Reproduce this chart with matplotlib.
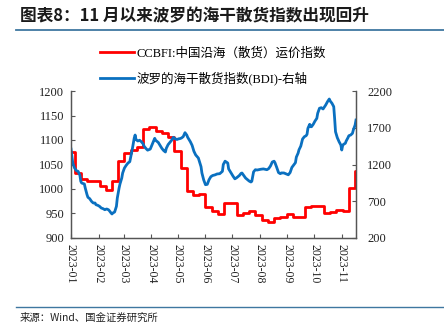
import matplotlib
matplotlib.use("Agg")
import matplotlib.pyplot as plt
import matplotlib.dates as mdates
import pandas as pd

# CCBFI weekly composite (left axis)
ccbfi_start = "2022-12-29"
ccbfi_values = [1076, 1033, 1020, 1016, 1016, 1007, 998, 1016, 1058, 1073,
                1080, 1085, 1123, 1126, 1119, 1115, 1106, 1078, 1042, 996,
                988, 989, 963, 955, 948, 971, 971, 947, 950, 955,
                947, 937, 933, 940, 943, 949, 943, 942, 963, 966,
                966, 950, 953, 957, 956, 1003, 1037]

# Baltic Dry Index (right axis)
bdi_dates = [
    "2023-01-01", "2023-01-03", "2023-01-05", "2023-01-07", "2023-01-09", "2023-01-11",
    "2023-01-12", "2023-01-13", "2023-01-16", "2023-01-17", "2023-01-19", "2023-01-20",
    "2023-01-22", "2023-01-24", "2023-01-26", "2023-01-28", "2023-01-29", "2023-01-31",
    "2023-02-02", "2023-02-04", "2023-02-06", "2023-02-08", "2023-02-10", "2023-02-12",
    "2023-02-13", "2023-02-15", "2023-02-16", "2023-02-17", "2023-02-19", "2023-02-21",
    "2023-02-22", "2023-02-24", "2023-02-25", "2023-02-27", "2023-02-28", "2023-03-02",
    "2023-03-04", "2023-03-06", "2023-03-08", "2023-03-09", "2023-03-11", "2023-03-13",
    "2023-03-14", "2023-03-15", "2023-03-17", "2023-03-19", "2023-03-21", "2023-03-23",
    "2023-03-24", "2023-03-26", "2023-03-28", "2023-03-31", "2023-04-02", "2023-04-05",
    "2023-04-06", "2023-04-09", "2023-04-11", "2023-04-13", "2023-04-15", "2023-04-17",
    "2023-04-18", "2023-04-20", "2023-04-22", "2023-04-24", "2023-04-26", "2023-04-28",
    "2023-04-30", "2023-05-02", "2023-05-03", "2023-05-05", "2023-05-07", "2023-05-09",
    "2023-05-11", "2023-05-12", "2023-05-15", "2023-05-17", "2023-05-19", "2023-05-21",
    "2023-05-24", "2023-05-27", "2023-05-28", "2023-05-30", "2023-06-01", "2023-06-03",
    "2023-06-05", "2023-06-07", "2023-06-09", "2023-06-12", "2023-06-14", "2023-06-17",
    "2023-06-20", "2023-06-21", "2023-06-23", "2023-06-26", "2023-06-27", "2023-06-30",
    "2023-07-02", "2023-07-04", "2023-07-06", "2023-07-09", "2023-07-11", "2023-07-12",
    "2023-07-14", "2023-07-16", "2023-07-18", "2023-07-20", "2023-07-22", "2023-07-23",
    "2023-07-25", "2023-07-27", "2023-07-29", "2023-07-31", "2023-08-02", "2023-08-05",
    "2023-08-07", "2023-08-09", "2023-08-11", "2023-08-13", "2023-08-15", "2023-08-17",
    "2023-08-18", "2023-08-20", "2023-08-22", "2023-08-24", "2023-08-25", "2023-08-28",
    "2023-08-30", "2023-09-01", "2023-09-02", "2023-09-04", "2023-09-06", "2023-09-08",
    "2023-09-10", "2023-09-11", "2023-09-13", "2023-09-14", "2023-09-16", "2023-09-18",
    "2023-09-20", "2023-09-22", "2023-09-23", "2023-09-24", "2023-09-26", "2023-09-27",
    "2023-09-28", "2023-09-30", "2023-10-02", "2023-10-04", "2023-10-05", "2023-10-07",
    "2023-10-09", "2023-10-11", "2023-10-12", "2023-10-14", "2023-10-16", "2023-10-18",
    "2023-10-19", "2023-10-21", "2023-10-23", "2023-10-24", "2023-10-25", "2023-10-27",
    "2023-10-29", "2023-10-31", "2023-11-01", "2023-11-02", "2023-11-03", "2023-11-05",
    "2023-11-06", "2023-11-08", "2023-11-09", "2023-11-11", "2023-11-13", "2023-11-14",
    "2023-11-16", "2023-11-17",
]
bdi_values = [
    1410, 1220, 1152, 1116, 1107, 1053,
    971, 948, 935, 880, 789, 754,
    735, 699, 676, 676, 653, 645,
    631, 608, 599, 585, 595, 585,
    572, 540, 527, 540, 554, 631,
    744, 880, 935, 1016, 1084, 1152,
    1189, 1220, 1238, 1300, 1420, 1560,
    1601, 1540, 1520, 1530, 1510, 1480,
    1450, 1420, 1395, 1410, 1470, 1556,
    1530, 1500, 1460, 1420, 1390, 1370,
    1420, 1470, 1500, 1530, 1570, 1550,
    1540, 1550, 1551, 1560, 1579, 1633,
    1600, 1570, 1510, 1460, 1380, 1330,
    1288, 1170, 1084, 990, 925, 930,
    993, 1034, 1050, 1060, 1071, 1075,
    1107, 1200, 1245, 1220, 1140, 1080,
    1040, 1005, 1020, 1050, 1080, 1084,
    1050, 1016, 995, 975, 962, 971,
    1100, 1129, 1125, 1130, 1135, 1140,
    1135, 1129, 1145, 1180, 1234, 1245,
    1225, 1160, 1090, 1075, 1085, 1085,
    1075, 1065, 1060, 1090, 1160, 1193,
    1225, 1300, 1355, 1400, 1450, 1547,
    1578, 1592, 1611, 1692, 1747, 1714,
    1714, 1747, 1792, 1828, 1897, 1965,
    1973, 1955, 1973, 2010, 2055, 2091,
    2064, 2033, 1987, 1828, 1646, 1565,
    1510, 1465, 1397, 1456, 1475, 1488,
    1520, 1565, 1592, 1601, 1624, 1669,
    1737, 1805,
]

x_start = pd.Timestamp("2023-01-01")
x_end = pd.Timestamp("2023-11-17")

left_ticks = [900, 950, 1000, 1050, 1100, 1150, 1200]
right_ticks = [200, 700, 1200, 1700, 2200]

label_red = "CCBFI:中国沿海（散货）运价指数"
label_blue = "波罗的海干散货指数(BDI)-右轴"
title_text = "图表8：11 月以来波罗的海干散货指数出现回升"
source_text = "来源：Wind、国金证券研究所"

RED = "#FF0000"
BLUE = "#0A70C0"
SPINE = "#555555"
SERIF_CJK = ["Liberation Serif", "Noto Sans CJK SC"]
CJK = ["Noto Sans CJK SC", "DejaVu Sans"]

plt.rcParams["font.family"] = SERIF_CJK

fig = plt.figure(figsize=(4.44, 3.27), dpi=100)
ax = fig.add_axes([71 / 444, 1 - 238 / 327, 285 / 444, 147 / 327])
ax2 = ax.twinx()

ccbfi_dates = pd.date_range(ccbfi_start, periods=len(ccbfi_values), freq="7D")
step_x = list(ccbfi_dates) + [x_end]
step_y = list(ccbfi_values) + [ccbfi_values[-1]]
l1, = ax.step(step_x, step_y, where="post", color=RED, lw=2.0, label=label_red)

l2, = ax2.plot(pd.to_datetime(bdi_dates), bdi_values, color=BLUE, lw=2.0,
               label=label_blue)

ax.set_xlim(x_start, x_end)
ax.set_ylim(900, 1200)
ax.set_yticks(left_ticks)
ax2.set_ylim(200, 2200)
ax2.set_yticks(right_ticks)

ax.xaxis.set_major_locator(mdates.MonthLocator())
ax.xaxis.set_major_formatter(mdates.DateFormatter("%Y-%m"))
for lbl in ax.get_xticklabels():
    lbl.set_rotation(270)
    lbl.set_fontsize(8.5)
    lbl.set_va("top")
    lbl.set_ha("center")

for a in (ax, ax2):
    a.spines["top"].set_visible(False)
    for s in ("left", "right", "bottom"):
        a.spines[s].set_color(SPINE)
        a.spines[s].set_linewidth(0.9)
    a.tick_params(direction="in", length=3, width=0.8, color=SPINE,
                  labelcolor="#222222")
ax.tick_params(axis="y", labelsize=9, pad=5)
ax2.tick_params(axis="y", labelsize=9, pad=8)
ax.tick_params(axis="x", pad=4)

fig.legend(handles=[l1, l2], loc="upper left",
           bbox_to_anchor=(100 / 444, 1 - 47 / 327),
           frameon=False, fontsize=9, handlelength=2.7, handletextpad=0.2,
           labelspacing=1.0, borderpad=0, borderaxespad=0)

fig.text(20 / 444, 1 - 16 / 327, title_text, family=CJK, fontsize=12,
         fontweight="bold", color="#1a1a1a", va="center", ha="left")
fig.add_artist(plt.Line2D([16 / 444, 1], [1 - 30 / 327, 1 - 30 / 327],
                          transform=fig.transFigure, color="#3f77a0", lw=1.3))
fig.add_artist(plt.Line2D([16 / 444, 1], [1 - 307 / 327, 1 - 307 / 327],
                          transform=fig.transFigure, color="#3f77a0", lw=1.0))
fig.text(20 / 444, 1 - 318 / 327, source_text, family=CJK, fontsize=7.5,
         color="#222222", va="center", ha="left")

fig.savefig("out.png", dpi=100)
